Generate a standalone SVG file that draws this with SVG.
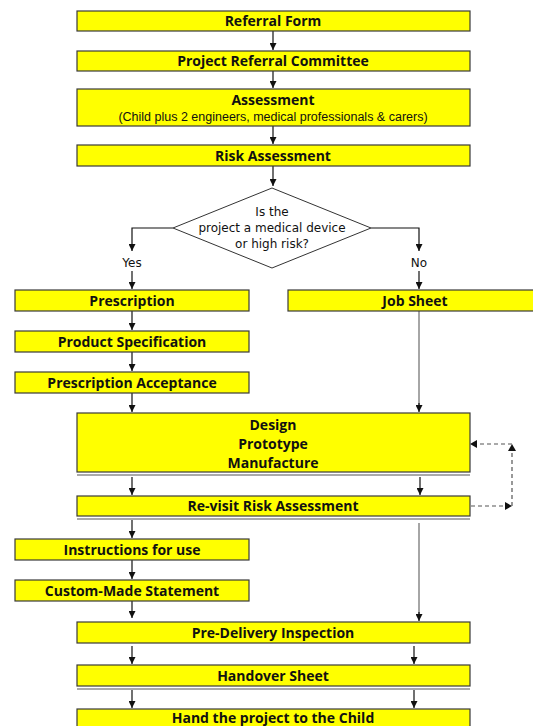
<svg xmlns="http://www.w3.org/2000/svg" width="533" height="726" viewBox="0 0 533 726">
<style>
.box{fill:#ffff00;stroke:#3a3a3a;stroke-width:1.2}
.t{font-family:"Open Sans","Lato",sans-serif;font-weight:bold;font-size:14px;fill:#111;text-anchor:middle}
.r{font-family:"DejaVu Sans","Liberation Sans",sans-serif;font-size:12px;fill:#111;text-anchor:middle}
.s{font-family:"Liberation Sans",sans-serif;font-size:12.5px;fill:#111;text-anchor:middle}
.c{stroke:#111;stroke-width:1.2;fill:none}
.g{stroke:#888;stroke-width:1.5;fill:none}
.d{stroke:#555;stroke-width:1.2;fill:none;stroke-dasharray:4,3}
.dl{stroke:#555;stroke-width:1}
</style>
<defs>
<marker id="a" viewBox="0 0 10 10" refX="10" refY="5" markerWidth="7" markerHeight="7" orient="auto" markerUnits="userSpaceOnUse"><path d="M0,0 L10,5 L0,10 z" fill="#111"/></marker>
</defs>
<rect width="533" height="726" fill="#fff"/>
<g id="connectors">
<line class="c" x1="273" y1="31" x2="273" y2="50" marker-end="url(#a)"/>
<line class="c" x1="273" y1="71" x2="273" y2="88" marker-end="url(#a)"/>
<line class="c" x1="273" y1="126" x2="273" y2="144" marker-end="url(#a)"/>
<line class="c" x1="273" y1="166" x2="273" y2="186" marker-end="url(#a)"/>
<polyline class="c" points="173,228 132,228 132,251" marker-end="url(#a)"/>
<polyline class="c" points="371,228 419,228 419,251" marker-end="url(#a)"/>
<line class="c" x1="132" y1="271" x2="132" y2="289" marker-end="url(#a)"/>
<line class="c" x1="419" y1="271" x2="419" y2="289" marker-end="url(#a)"/>
<line class="c" x1="132" y1="311" x2="132" y2="330" marker-end="url(#a)"/>
<line class="c" x1="132" y1="352" x2="132" y2="371" marker-end="url(#a)"/>
<line class="c" x1="132" y1="393" x2="132" y2="412" marker-end="url(#a)"/>
<line class="g" x1="419" y1="311" x2="419" y2="405"/>
<line class="c" x1="419" y1="403" x2="419" y2="412" marker-end="url(#a)"/>
<line class="c" x1="132" y1="477" x2="132" y2="495" marker-end="url(#a)"/>
<line class="c" x1="420" y1="477" x2="420" y2="495" marker-end="url(#a)"/>
<line class="c" x1="132" y1="520" x2="132" y2="538" marker-end="url(#a)"/>
<line class="g" x1="419" y1="523" x2="419" y2="614"/>
<line class="c" x1="419" y1="612" x2="419" y2="621" marker-end="url(#a)"/>
<line class="c" x1="132" y1="560" x2="132" y2="579" marker-end="url(#a)"/>
<line class="c" x1="132" y1="601" x2="132" y2="618" marker-end="url(#a)"/>
<line class="c" x1="132" y1="646" x2="132" y2="664" marker-end="url(#a)"/>
<line class="c" x1="414" y1="646" x2="414" y2="664" marker-end="url(#a)"/>
<line class="c" x1="132" y1="690" x2="132" y2="708" marker-end="url(#a)"/>
<line class="c" x1="414" y1="690" x2="414" y2="708" marker-end="url(#a)"/>
<line class="d" x1="471" y1="506" x2="510" y2="506"/>
<path d="M505,502 L512,506 L505,510 z" fill="#111"/>
<line class="d" x1="512" y1="506" x2="512" y2="450"/>
<path d="M508,451 L512,444 L516,451 z" fill="#111"/>
<line class="d" x1="512" y1="444" x2="476" y2="444"/>
<path d="M477,440 L470,444 L477,448 z" fill="#111"/>
</g>
<g id="n1"><rect class="box" x="77" y="11" width="393" height="20"/><text class="t" x="273" y="26">Referral Form</text></g>
<g id="n2"><rect class="box" x="77" y="51" width="393" height="20"/><text class="t" x="273" y="66">Project Referral Committee</text></g>
<g id="n3"><rect class="box" x="77" y="89" width="393" height="37"/><text class="t" x="273" y="105">Assessment</text><text class="s" x="273" y="121">(Child plus 2 engineers, medical professionals &amp; carers)</text></g>
<g id="n4"><rect class="box" x="77" y="145" width="393" height="21"/><text class="t" x="273" y="161">Risk Assessment</text></g>
<g id="n5"><polygon points="272,188 371,228 272,268 173,228" fill="#fff" stroke="#333" stroke-width="1"/>
<text class="r" x="272" y="216">Is the</text><text class="r" x="272" y="232">project a medical device</text><text class="r" x="272" y="248">or high risk?</text></g>
<g id="yes"><text class="r" x="132" y="267">Yes</text></g>
<g id="no"><text class="r" x="419" y="267">No</text></g>
<g id="n6"><rect class="box" x="15" y="290" width="234" height="21"/><text class="t" x="132" y="306">Prescription</text></g>
<g id="n7"><rect class="box" x="288" y="290" width="250" height="21"/><text class="t" x="415" y="306">Job Sheet</text></g>
<g id="n8"><rect class="box" x="15" y="331" width="234" height="21"/><text class="t" x="132" y="347">Product Specification</text></g>
<g id="n9"><rect class="box" x="15" y="372" width="234" height="21"/><text class="t" x="132" y="388">Prescription Acceptance</text></g>
<g id="n10"><rect class="box" x="77" y="413" width="393" height="59"/><line class="dl" x1="77" y1="475" x2="470" y2="475"/>
<text class="t" x="273" y="430">Design</text><text class="t" x="273" y="449">Prototype</text><text class="t" x="273" y="468">Manufacture</text></g>
<g id="n11"><rect class="box" x="77" y="496" width="393" height="20"/><line class="dl" x1="77" y1="519" x2="470" y2="519"/><text class="t" x="273" y="511">Re-visit Risk Assessment</text></g>
<g id="n12"><rect class="box" x="15" y="539" width="234" height="21"/><text class="t" x="132" y="555">Instructions for use</text></g>
<g id="n13"><rect class="box" x="15" y="580" width="234" height="21"/><text class="t" x="132" y="596">Custom-Made Statement</text></g>
<g id="n14"><rect class="box" x="77" y="622" width="393" height="21"/><text class="t" x="273" y="638">Pre-Delivery Inspection</text></g>
<g id="n15"><rect class="box" x="77" y="665" width="393" height="21"/><line class="dl" x1="77" y1="689" x2="470" y2="689"/><text class="t" x="273" y="681">Handover Sheet</text></g>
<g id="n16"><rect class="box" x="77" y="709" width="393" height="25"/><text class="t" x="273" y="723">Hand the project to the Child</text></g>
</svg>
